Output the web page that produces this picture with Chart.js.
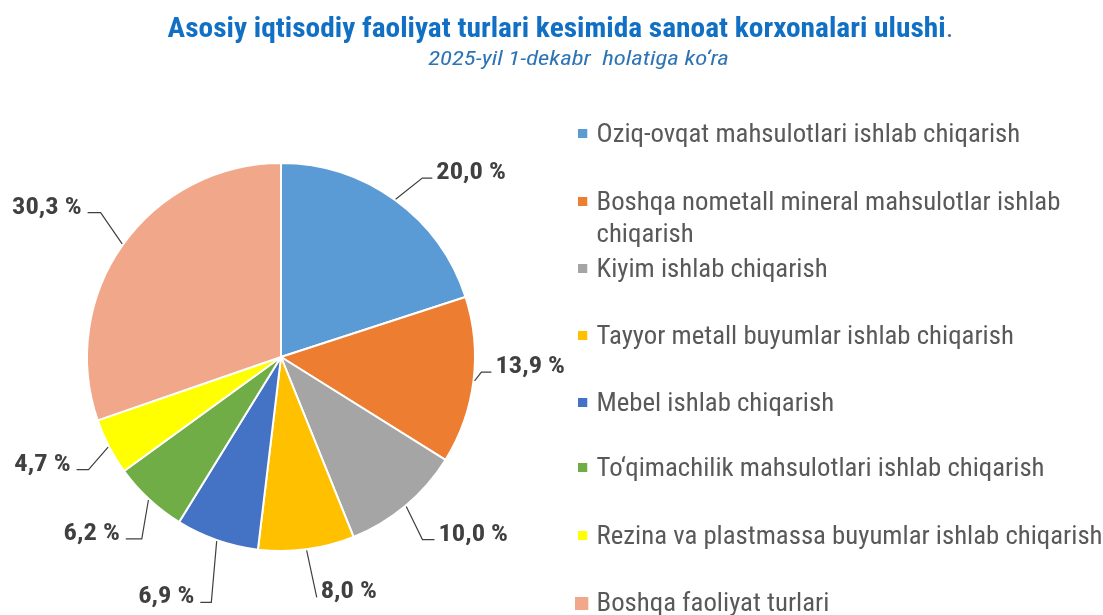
<!DOCTYPE html>
<html>
<head>
<meta charset="utf-8">
<script src="https://cdn.jsdelivr.net/npm/chart.js@4.4.1/dist/chart.umd.min.js"></script>
<style>
    body { margin: 0; background: #fff; font-family: "Roboto Condensed", "Liberation Sans Narrow", Roboto, sans-serif; }
    #wrap { position: relative; width: 1103px; height: 615px; overflow: hidden; }
    #grafico { position: absolute; left: 0; top: 0; }
    .titulo { position: absolute; left: 9px; width: 1103px; top: 11px; text-align: center; color: #1170C4; font-weight: bold; font-size: 28px; transform: scaleX(1.05); }
    .titulo span { font-weight: normal; color: #4a6f9a; }
    .sub { position: absolute; left: 27px; width: 1103px; top: 46px; text-align: center; color: #2E74B5; font-style: italic; font-size: 21px; transform: scaleX(1.18); }
    .leg { position: absolute; left: 578px; font-size: 26px; color: #595959; line-height: 32px; transform: scaleX(1.03); transform-origin: left top; }
    .leg i { position: absolute; left: 0; top: 12px; width: 9px; height: 9px; }
    .leg div { margin-left: 18px; width: 500px; }
</style>
</head>
<body>
<div id="wrap">
    <canvas id="grafico" width="1103" height="615"></canvas>
    <div class="titulo">Asosiy iqtisodiy faoliyat turlari kesimida sanoat korxonalari ulushi<span>.</span></div>
    <div class="sub">2025-yil 1-dekabr&nbsp; holatiga ko‘ra</div>
    <div id="legenda"></div>
</div>
<script>
// Dados
const categorias = [
    'Oziq-ovqat mahsulotlari ishlab chiqarish',
    'Boshqa nometall mineral mahsulotlar ishlab chiqarish',
    'Kiyim ishlab chiqarish',
    'Tayyor metall buyumlar ishlab chiqarish',
    'Mebel ishlab chiqarish',
    'To‘qimachilik mahsulotlari ishlab chiqarish',
    'Rezina va plastmassa buyumlar ishlab chiqarish',
    'Boshqa faoliyat turlari'
];
const valores = [20.0, 13.9, 10.0, 8.0, 6.9, 6.2, 4.7, 30.3];
const cores = ['#5B9BD5', '#ED7D31', '#A5A5A5', '#FFC000', '#4472C4', '#70AD47', '#FFFF00', '#F1A78A'];

// Legenda em HTML (espaçamento irregular como no original)
const legY = [117, 185, 252, 319, 386, 451, 519, 586];
const legenda = document.getElementById('legenda');
categorias.forEach((c, i) => {
    const el = document.createElement('div');
    el.className = 'leg';
    el.style.top = legY[i] + 'px';
    const extra = i === categorias.length - 1 ? 'width:13px;height:13px;top:11px;left:-3px;' : '';
    el.innerHTML = '<i style="background:' + cores[i] + ';' + extra + '"></i><div>' + c + '</div>';
    legenda.appendChild(el);
});

// Rótulos com linha de chamada (ajustes finos por fatia)
const ajuste = [2.3, -2.7, 2.2, -0.9, -3.4, -5.4, -2.8, 3.2];  // graus
const alonga = [34, 7, 37, 49, 61, 35, 29, 37];                // px além do raio
const traco = [10, 10, 12, 0, 11, 16, 12, 13];                 // traço horizontal

const rotulos = {
    id: 'rotulos',
    afterDatasetsDraw(chart) {
        const ctx = chart.ctx;
        const meta = chart.getDatasetMeta(0);
        ctx.save();
        ctx.font = 'bold 23px "Roboto Condensed", "Liberation Sans Narrow", Roboto, sans-serif';
        ctx.fillStyle = '#404040';
        ctx.strokeStyle = '#404040';
        ctx.lineWidth = 1.2;
        meta.data.forEach((arc, i) => {
            const p = arc.getProps(['x', 'y', 'startAngle', 'endAngle', 'outerRadius'], true);
            const mid = (p.startAngle + p.endAngle) / 2;
            const a1 = mid + ajuste[i] * Math.PI / 180;
            const x0 = p.x + Math.cos(mid) * (p.outerRadius + 1);
            const y0 = p.y + Math.sin(mid) * (p.outerRadius + 1);
            const x1 = p.x + Math.cos(a1) * (p.outerRadius + alonga[i]);
            const y1 = p.y + Math.sin(a1) * (p.outerRadius + alonga[i]);
            const dir = Math.cos(a1) >= 0 ? 1 : -1;
            const x2 = x1 + dir * traco[i];
            ctx.beginPath();
            ctx.moveTo(x0, y0);
            ctx.lineTo(x1, y1);
            ctx.lineTo(x2, y1);
            ctx.stroke();
            const txt = valores[i].toFixed(1).replace('.', ',') + ' %';
            ctx.save();
            ctx.translate(x2 + dir * (dir > 0 ? 4 : 6), y1 + 1);
            ctx.scale(1.15, 1);
            ctx.textAlign = dir > 0 ? 'left' : 'right';
            ctx.textBaseline = 'alphabetic';
            ctx.fillText(txt, 0, 0);
            ctx.restore();
        });
        ctx.restore();
    }
};

const ctxPie = document.getElementById('grafico').getContext('2d');
const grafico = new Chart(ctxPie, {
    type: 'pie',
    data: {
        labels: categorias,
        datasets: [{
            data: valores,
            backgroundColor: cores,
            borderColor: '#ffffff',
            borderWidth: 2
        }]
    },
    options: {
        responsive: false,
        animation: false,
        layout: { padding: { left: 86, right: 627, top: 162, bottom: 63 } },
        plugins: {
            legend: { display: false },
            tooltip: { enabled: false }
        }
    },
    plugins: [rotulos]
});
</script>
</body>
</html>
